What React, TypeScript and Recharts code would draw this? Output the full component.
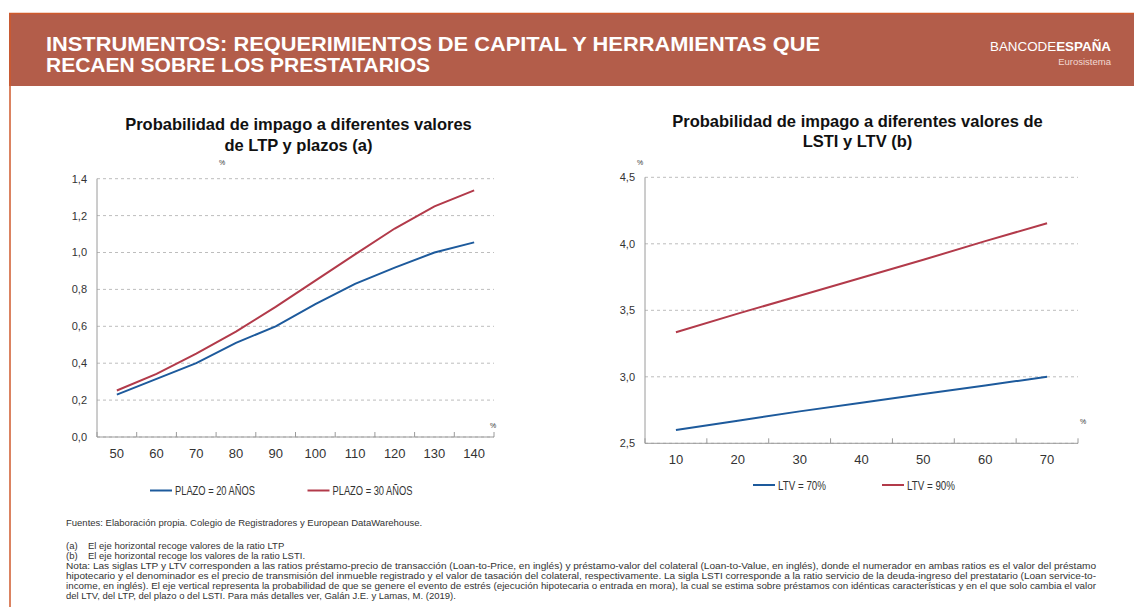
import React from 'react';
import { LineChart, Line, XAxis, YAxis, CartesianGrid } from 'recharts';

// ---------- DATA ----------
const ltpCategories = [50, 60, 70, 80, 90, 100, 110, 120, 130, 140];
const plazo20Values = [0.23, 0.315, 0.4, 0.51, 0.6, 0.72, 0.83, 0.918, 1.0, 1.055];
const plazo30Values = [0.252, 0.342, 0.452, 0.571, 0.705, 0.848, 0.99, 1.13, 1.25, 1.337];
const ltpYTicks = [0, 0.2, 0.4, 0.6, 0.8, 1.0, 1.2, 1.4];
const ltpSeriesLabels = ['PLAZO = 20 AÑOS', 'PLAZO = 30 AÑOS'];

const lstiCategories = [10, 20, 30, 40, 50, 60, 70];
const ltv70Values = [2.6, 2.67, 2.74, 2.805, 2.87, 2.935, 3.0];
const ltv90Values = [3.335, 3.475, 3.61, 3.745, 3.88, 4.02, 4.155];
const lstiYTicks = [2.5, 3.0, 3.5, 4.0, 4.5];
const lstiSeriesLabels = ['LTV = 70%', 'LTV = 90%'];

const headerLines = [
  'INSTRUMENTOS: REQUERIMIENTOS DE CAPITAL Y HERRAMIENTAS QUE',
  'RECAEN SOBRE LOS PRESTATARIOS',
];
const leftTitle = ['Probabilidad de impago a diferentes valores', 'de LTP y plazos (a)'];
const rightTitle = ['Probabilidad de impago a diferentes valores de', 'LSTI y LTV (b)'];
const sourceText = 'Fuentes: Elaboración propia. Colegio de Registradores y European DataWarehouse.';
const noteA = ['(a)', 'El eje horizontal recoge valores de la ratio LTP'];
const noteB = ['(b)', 'El eje horizontal recoge los valores de la ratio LSTI.'];
const notaLines = [
  'Nota: Las siglas LTP y LTV corresponden a las ratios préstamo-precio de transacción (Loan-to-Price, en inglés) y préstamo-valor del colateral (Loan-to-Value, en inglés), donde el numerador en ambas ratios es el valor del préstamo',
  'hipotecario y el denominador es el precio de transmisión del inmueble registrado y el valor de tasación del colateral, respectivamente. La sigla LSTI corresponde a la ratio servicio de la deuda-ingreso del prestatario (Loan service-to-',
  'income, en inglés). El eje vertical representa la probabilidad de que se genere el evento de estrés (ejecución hipotecaria o entrada en mora), la cual se estima sobre préstamos con idénticas características y en el que solo cambia el valor',
  'del LTV, del LTP, del plazo o del LSTI. Para más detalles ver, Galán J.E. y Lamas, M. (2019).',
];

// ---------- STYLE ----------
const BLUE = '#1d5a9c';
const RED = '#b23a4a';
const AXIS = '#9a9a9a';
const GRID = '#bdbdbd';
const TEXT = '#333333';
const FONT = '"Liberation Sans", Arial, Helvetica, sans-serif';
const NARROW = '"Liberation Sans Narrow", "Arial Narrow", "Liberation Sans", Arial, sans-serif';
const HEADER_BG = '#b35d4a';
const BORDER = '#cf5a2c';
const NOTE_SIZE = 9.5;

const ltpData = ltpCategories.map((x, i) => ({ x, s20: plazo20Values[i], s30: plazo30Values[i] }));
const lstiData = lstiCategories.map((x, i) => ({ x, l70: ltv70Values[i], l90: ltv90Values[i] }));

const fmt = (v: number) => v.toFixed(1).replace('.', ',');

const makeXTick = (halfStep: number, lastValue: number) => (props: any) => {
  const { x, y, payload } = props;
  return (
    <g>
      <line x1={x - halfStep} x2={x - halfStep} y1={y} y2={y - 5} stroke={AXIS} strokeWidth={1} />
      {payload.value === lastValue && (
        <line x1={x + halfStep} x2={x + halfStep} y1={y} y2={y - 5} stroke={AXIS} strokeWidth={1} />
      )}
      <text x={x} y={y + 21} textAnchor="middle" fontSize={13} fill={TEXT} fontFamily={FONT}>
        {payload.value}
      </text>
    </g>
  );
};

type PanelProps = {
  left: number;
  top: number;
  width: number;
  height: number;
  margin: { top: number; right: number; left: number; bottom: number };
  yWidth: number;
  data: any[];
  keys: string[];
  colors: string[];
  xDomain: [number, number];
  xTicks: number[];
  yDomain: [number, number];
  yTicks: number[];
  halfStep: number;
};

function Panel(p: PanelProps) {
  return (
    <div style={{ position: 'absolute', left: p.left, top: p.top, width: p.width, height: p.height }}>
      <LineChart width={p.width} height={p.height} data={p.data} margin={p.margin}>
        <CartesianGrid vertical={false} stroke={GRID} strokeDasharray="3 3" />
        <XAxis
          dataKey="x"
          type="number"
          domain={p.xDomain}
          ticks={p.xTicks}
          interval={0}
          height={30}
          tickSize={0}
          tickMargin={0}
          tickLine={false}
          axisLine={{ stroke: AXIS }}
          tick={makeXTick(p.halfStep, p.xTicks[p.xTicks.length - 1])}
        />
        <YAxis
          type="number"
          domain={p.yDomain}
          ticks={p.yTicks}
          interval={0}
          width={p.yWidth}
          tickLine={false}
          tickSize={6}
          tickMargin={4}
          axisLine={{ stroke: AXIS }}
          tickFormatter={fmt}
          tick={{ fontSize: 11, fill: TEXT, fontFamily: FONT }}
        />
        {p.keys.map((k, i) => (
          <Line
            key={k}
            dataKey={k}
            type="linear"
            stroke={p.colors[i]}
            strokeWidth={2}
            dot={false}
            activeDot={false}
            isAnimationActive={false}
          />
        ))}
      </LineChart>
    </div>
  );
}

function LegendItem({ x, y, color, label, textWidth }: any) {
  return (
    <g>
      <line x1={x} x2={x + 22} y1={y} y2={y} stroke={color} strokeWidth={2} />
      <text
        x={x + 25}
        y={y + 4.5}
        fontSize={12}
        fill={TEXT}
        fontFamily={NARROW}
        textLength={textWidth}
        lengthAdjust="spacingAndGlyphs"
      >
        {label}
      </text>
    </g>
  );
}

export default function App() {
  return (
    <div
      style={{
        position: 'absolute',
        left: 0,
        top: 0,
        width: 1134,
        height: 607,
        overflow: 'hidden',
        background: '#ffffff',
        fontFamily: FONT,
      }}
    >
      <svg width={1134} height={607} style={{ position: 'absolute', left: 0, top: 0 }}>
        {/* header */}
        <rect x={9} y={13} width={1125} height={73} fill={HEADER_BG} />
        <line x1={9} x2={1134} y1={13.5} y2={13.5} stroke={BORDER} strokeWidth={1.5} />
        <line x1={10} x2={10} y1={13} y2={607} stroke={BORDER} strokeWidth={1.5} />
        <text
          x={46}
          y={50.5}
          fontSize={20}
          fontWeight="bold"
          fill="#ffffff"
          fontFamily={FONT}
          textLength={774}
          lengthAdjust="spacingAndGlyphs"
        >
          {headerLines[0]}
        </text>
        <text
          x={46}
          y={71.5}
          fontSize={20}
          fontWeight="bold"
          fill="#ffffff"
          fontFamily={FONT}
          textLength={384}
          lengthAdjust="spacingAndGlyphs"
        >
          {headerLines[1]}
        </text>
        <text
          x={1111}
          y={51}
          textAnchor="end"
          fontSize={13.5}
          fill="#ffffff"
          fontFamily={FONT}
          textLength={121}
          lengthAdjust="spacingAndGlyphs"
        >
          <tspan fontWeight="normal">BANCODE</tspan>
          <tspan fontWeight="bold">ESPAÑA</tspan>
        </text>
        <text x={1111} y={65} textAnchor="end" fontSize={9.5} fill="#f2d9d2" fontFamily={FONT}>
          Eurosistema
        </text>

        {/* titles */}
        {leftTitle.map((t, i) => (
          <text
            key={t}
            x={298.5}
            y={130 + i * 20.5}
            textAnchor="middle"
            fontSize={16.5}
            fontWeight="bold"
            fill="#111"
            fontFamily={FONT}
          >
            {t}
          </text>
        ))}
        {rightTitle.map((t, i) => (
          <text
            key={t}
            x={857.5}
            y={126.5 + i * 20.5}
            textAnchor="middle"
            fontSize={16.5}
            fontWeight="bold"
            fill="#111"
            fontFamily={FONT}
          >
            {t}
          </text>
        ))}

        {/* units */}
        <text x={222} y={164.5} textAnchor="middle" fontSize={7} fill={TEXT} fontFamily={FONT}>%</text>
        <text x={493} y={427.5} textAnchor="middle" fontSize={7} fill={TEXT} fontFamily={FONT}>%</text>
        <text x={640} y={164.5} textAnchor="middle" fontSize={7} fill={TEXT} fontFamily={FONT}>%</text>
        <text x={1083} y={423.5} textAnchor="middle" fontSize={7} fill={TEXT} fontFamily={FONT}>%</text>

        {/* legends */}
        <LegendItem x={150} y={490.5} color={BLUE} label={ltpSeriesLabels[0]} textWidth={80} />
        <LegendItem x={307.5} y={490.5} color={RED} label={ltpSeriesLabels[1]} textWidth={80} />
        <LegendItem x={753} y={485} color={BLUE} label={lstiSeriesLabels[0]} textWidth={48} />
        <LegendItem x={882} y={485} color={RED} label={lstiSeriesLabels[1]} textWidth={48} />

        {/* footnotes */}
        <text x={66} y={526} fontSize={NOTE_SIZE} fill={TEXT} fontFamily={FONT}>{sourceText}</text>
        <text x={66} y={549} fontSize={NOTE_SIZE} fill={TEXT} fontFamily={FONT}>{noteA[0]}</text>
        <text x={88} y={549} fontSize={NOTE_SIZE} fill={TEXT} fontFamily={FONT}>{noteA[1]}</text>
        <text x={66} y={559} fontSize={NOTE_SIZE} fill={TEXT} fontFamily={FONT}>{noteB[0]}</text>
        <text x={88} y={559} fontSize={NOTE_SIZE} fill={TEXT} fontFamily={FONT}>{noteB[1]}</text>
        {notaLines.map((t, i) => (
          <text
            key={i}
            x={66}
            y={569 + i * 10}
            fontSize={NOTE_SIZE}
            fill={TEXT}
            fontFamily={FONT}
            {...(i < 3 ? { textLength: 1030, lengthAdjust: 'spacingAndGlyphs' } : {})}
          >
            {t}
          </text>
        ))}
      </svg>

      <Panel
        left={40}
        top={150}
        width={480}
        height={360}
        margin={{ top: 28.7, right: 26, left: 12, bottom: 43 }}
        yWidth={45}
        data={ltpData}
        keys={['s20', 's30']}
        colors={[BLUE, RED]}
        xDomain={[45, 145]}
        xTicks={ltpCategories}
        yDomain={[0, 1.4]}
        yTicks={ltpYTicks}
        halfStep={(494 - 97) / 20}
      />
      <Panel
        left={580}
        top={150}
        width={530}
        height={360}
        margin={{ top: 27.3, right: 32, left: 15, bottom: 36.7 }}
        yWidth={50}
        data={lstiData}
        keys={['l70', 'l90']}
        colors={[BLUE, RED]}
        xDomain={[5, 75]}
        xTicks={lstiCategories}
        yDomain={[2.5, 4.5]}
        yTicks={lstiYTicks}
        halfStep={(1078 - 645) / 14}
      />
    </div>
  );
}
